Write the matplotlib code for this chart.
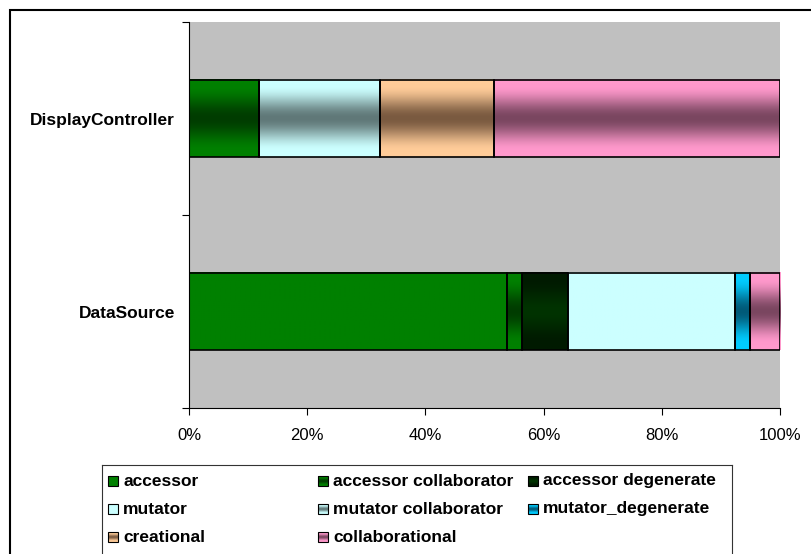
import matplotlib
matplotlib.use('Agg')
import matplotlib.pyplot as plt
import numpy as np
from matplotlib.patches import Rectangle
from matplotlib.colors import to_rgb

plt.rcParams['font.family'] = ['Liberation Sans', 'DejaVu Sans']

# Classes (bottom to top) and method counts per stereotype
categories = ['DataSource', 'DisplayController']
series_names = ['accessor', 'accessor collaborator', 'accessor degenerate',
                'mutator', 'mutator collaborator', 'mutator_degenerate',
                'creational', 'collaborational']
accessor = [21, 0]
accessor_collaborator = [1, 11]
accessor_degenerate = [3, 0]
mutator = [11, 0]
mutator_collaborator = [0, 19]
mutator_degenerate = [1, 0]
creational = [0, 18]
collaborational = [2, 45]
series_values = [accessor, accessor_collaborator, accessor_degenerate, mutator,
                 mutator_collaborator, mutator_degenerate, creational, collaborational]

# Excel-like fill: edge colour at top/bottom, mid colour in the centre
edge_colors = ['#008000', '#008000', '#001A00', '#CCFFFF', '#CCFFFF', '#00CCFF', '#FFCC99', '#FF99CC']
mid_colors = ['#008000', '#003C00', '#003300', '#CCFFFF', '#607878', '#005A78', '#7A5A40', '#7A4660']
x_ticks = [0, 20, 40, 60, 80, 100]


def gradient(edge, mid, n=64):
    t = np.linspace(0, 1, n)
    d = np.clip(np.abs(t - 0.5) * 2 / 0.85, 0, 1)
    s = d * d * (3 - 2 * d)
    e = np.array(to_rgb(edge))
    m = np.array(to_rgb(mid))
    rgb = m[None, :] + (e - m)[None, :] * s[:, None]
    return rgb[:, None, :]


fig = plt.figure(figsize=(8.12, 5.54), dpi=100)
ax = fig.add_axes([189 / 812, 1 - 408 / 554, 591 / 812, 386 / 554])
ax.set_facecolor('#C0C0C0')

y = np.arange(len(categories))
totals = np.sum(series_values, axis=0)
left = np.zeros(len(categories))
for vals, ec, mc in zip(series_values, edge_colors, mid_colors):
    pct = np.array(vals) / totals * 100
    bars = ax.barh(y, pct, left=left, height=0.4, facecolor='none',
                   edgecolor='black', linewidth=1.2, zorder=3)
    for b in bars:
        if b.get_width() > 0:
            ax.imshow(gradient(ec, mc), extent=(b.get_x(), b.get_x() + b.get_width(),
                                                b.get_y(), b.get_y() + b.get_height()),
                      aspect='auto', zorder=2, interpolation='bilinear')
    left += pct

ax.set_xlim(0, 100)
ax.set_ylim(-0.5, 1.5)
ax.spines['top'].set_visible(False)
ax.spines['right'].set_visible(False)
ax.set_xticks(x_ticks)
ax.set_xticklabels([f'{v}%' for v in x_ticks])
ax.tick_params(axis='x', direction='out', length=5, labelsize=12, pad=9.5)
ax.set_yticks([-0.5, 0.5, 1.5])
ax.set_yticklabels([])
ax.set_yticks(y, minor=True)
ax.set_yticklabels(categories, minor=True, fontweight='bold', fontsize=12.5)
ax.tick_params(axis='y', which='major', direction='out', length=5)
ax.tick_params(axis='y', which='minor', length=0, pad=10)

# legend box, laid out like the Excel one (3 equal columns)
leg = fig.add_axes([102 / 812, 1 - 560 / 554, 630 / 812, 95 / 554])
leg.set_xlim(0, 630)
leg.set_ylim(95, 0)
leg.set_xticks([])
leg.set_yticks([])
for sp in leg.spines.values():
    sp.set_color('#333333')
for i, name in enumerate(series_names):
    row, col = i // 3, i % 3
    x0 = 6 + col * 210
    yc = 16 + row * 28
    leg.imshow(gradient(edge_colors[i], mid_colors[i], 16),
               extent=(x0, x0 + 10, yc + 5, yc - 5), aspect='auto', zorder=2)
    leg.add_patch(Rectangle((x0, yc - 5), 10, 10, fill=False, edgecolor='black', lw=0.8, zorder=3))
    leg.text(x0 + 15, yc, name, va='center', ha='left', fontweight='bold', fontsize=12.5)
leg.set_xlim(0, 630)
leg.set_ylim(95, 0)

# outer chart border (cut off at right and bottom like the original)
fig.add_artist(Rectangle((10.5 / 812, -0.2), 1.5, 1 - 9.5 / 554 + 0.2,
                         transform=fig.transFigure, fill=False, lw=1.5, edgecolor='black'))

fig.savefig('out.png', dpi=100)
